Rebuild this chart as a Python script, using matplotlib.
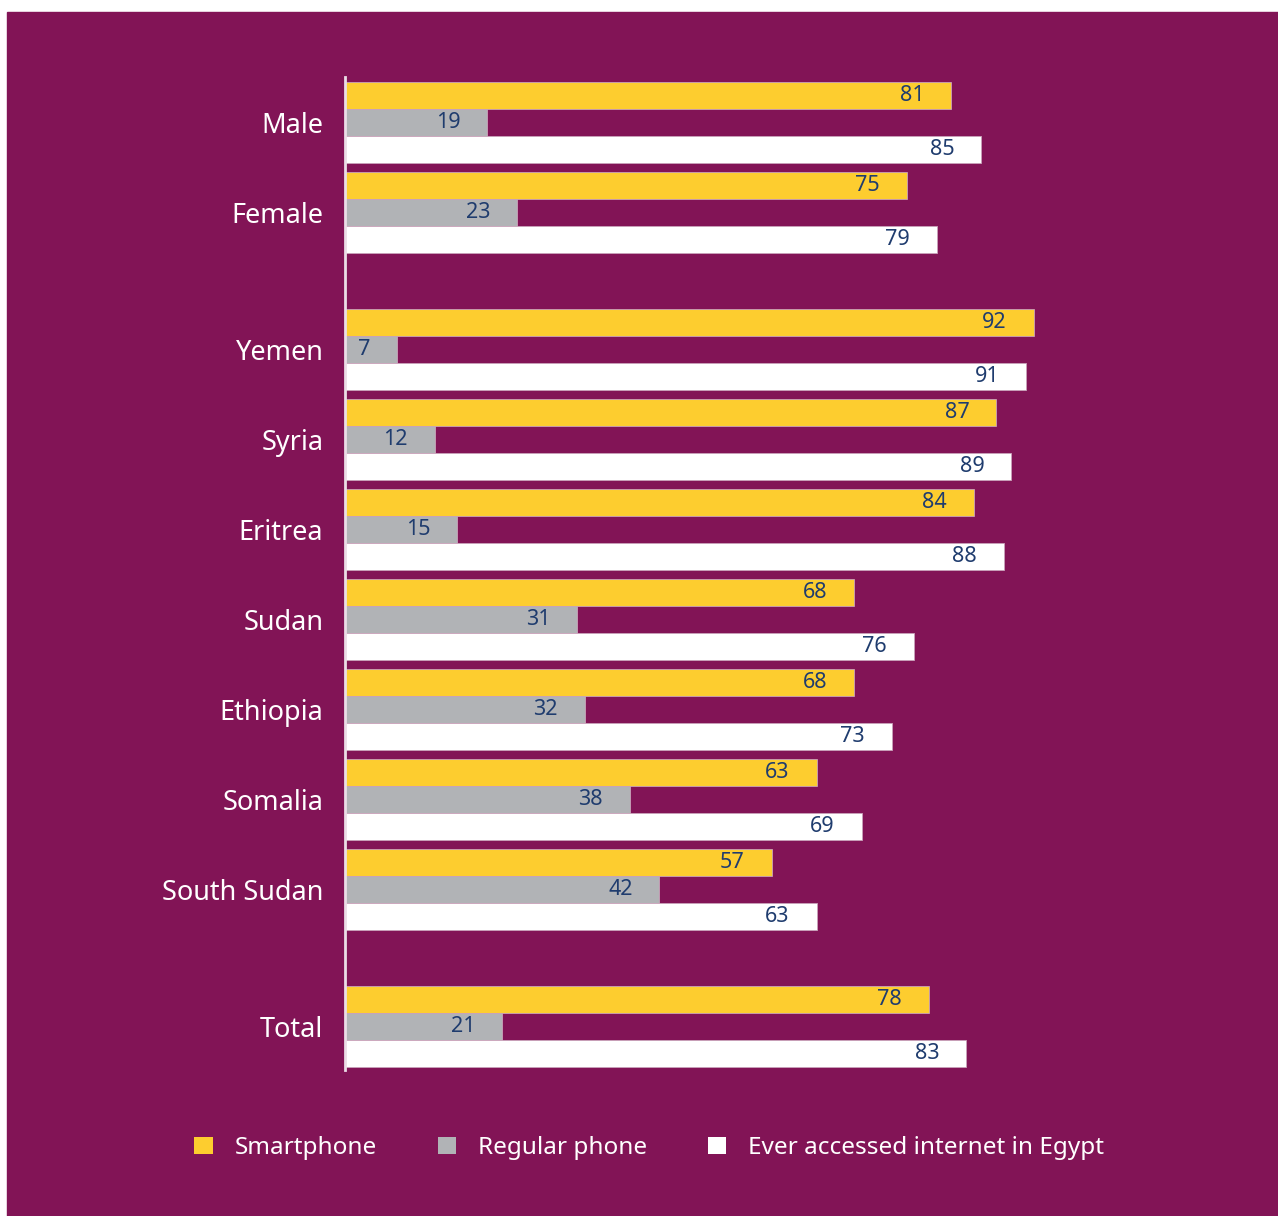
import numpy as np
import matplotlib.pyplot as plt
from matplotlib.patches import Rectangle, Patch

plt.rcParams['font.family'] = ['Noto Sans', 'DejaVu Sans']

# data
categories = ['Male', 'Female', 'Yemen', 'Syria', 'Eritrea', 'Sudan',
              'Ethiopia', 'Somalia', 'South Sudan', 'Total']
smartphone = [81, 75, 92, 87, 84, 68, 68, 63, 57, 78]
regular = [19, 23, 7, 12, 15, 31, 32, 38, 42, 21]
internet = [85, 79, 91, 89, 88, 76, 73, 69, 63, 83]
series_names = ['Smartphone', 'Regular phone', 'Ever accessed internet in Egypt']

purple = '#821456'
yellow = '#FDCD2F'
grey = '#B1B3B6'
white = '#FFFFFF'
navy = '#1F3C6E'

# group positions: gaps after Female and after South Sudan
gaps = [0, 1, 1.52, 1, 1, 1, 1, 1, 1, 1.52]
ypos = np.cumsum(gaps)
h = 0.3

W, H = 1278, 1216
fig = plt.figure(figsize=(W / 100, H / 100), dpi=100, facecolor='white')
fig.patches.append(Rectangle((7 / W, 0), 1 - 7 / W, (H - 12) / H,
                             transform=fig.transFigure, color=purple, zorder=-10))

ax = fig.add_axes([345 / W, 1 - 1070 / H, (1251 - 345) / W, (1070 - 77) / H])
ax.set_facecolor('none')

cols = [yellow, grey, white]
for k, (vals, c) in enumerate(zip([smartphone, regular, internet], cols)):
    y = ypos + (k - 1) * h
    ax.barh(y, vals, height=h, color=c, edgecolor='#C9A3BA', linewidth=0.6)
    for yy, v in zip(y, vals):
        ax.text(v - 3.6, yy, str(v), ha='right', va='center',
                fontsize=15.5, color=navy)

ax.set_xlim(0, 121)
ax.set_ylim((1070 - 122.5) / 90, (77 - 122.5) / 90)
ax.set_yticks(ypos)
ax.set_yticklabels(categories, fontsize=19.5, color='white')
ax.tick_params(axis='y', length=0, pad=15.5)
ax.set_xticks([])
for s in ['top', 'right', 'bottom']:
    ax.spines[s].set_visible(False)
ax.spines['left'].set_color('#EBDDE6')
ax.spines['left'].set_linewidth(2)

handles = [Patch(facecolor=c, edgecolor='none') for c in cols]
leg = fig.legend(handles, series_names, loc='center', ncol=3,
                 bbox_to_anchor=(649 / W, 1 - 1148 / H), frameon=False,
                 fontsize=17.5, handlelength=0.75, handleheight=0.75,
                 handletextpad=0.9, columnspacing=2.5)
for t in leg.get_texts():
    t.set_color('white')

fig.savefig('out.png', dpi=100, facecolor='white')
